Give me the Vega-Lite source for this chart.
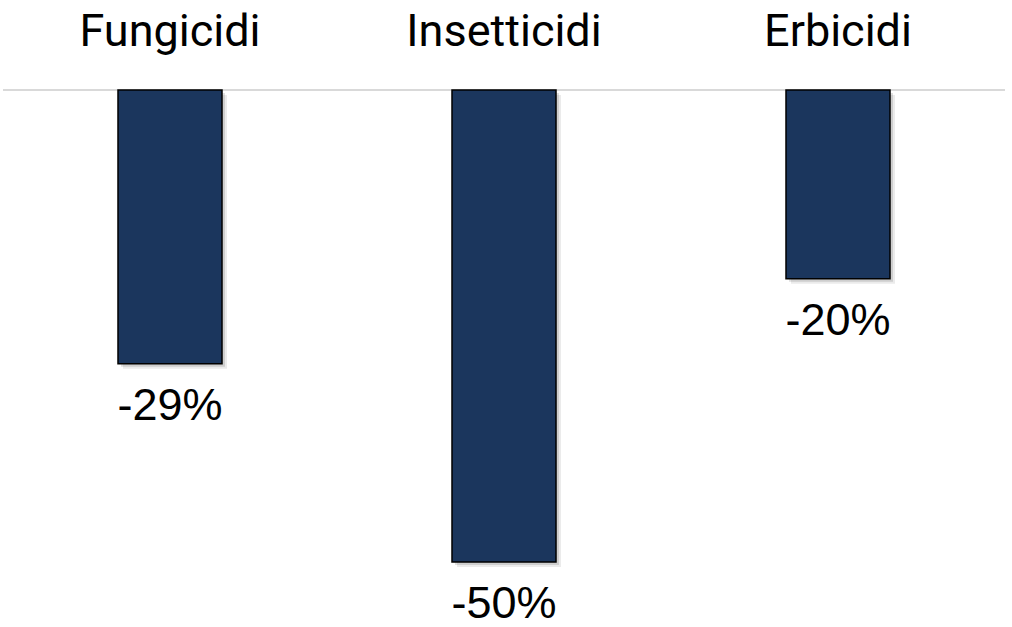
{
  "$schema": "https://vega.github.io/schema/vega-lite/v6.json",
  "width": 1002,
  "height": 535,
  "autosize": {"type": "none"},
  "padding": {"left": 3, "top": 90, "right": 7, "bottom": 2},
  "background": "white",
  "config": {"view": {"stroke": null}, "font": "Liberation Sans"},
  "data": {
    "values": [
      {"categoria": "Fungicidi", "variazione": -0.29},
      {"categoria": "Insetticidi", "variazione": -0.50},
      {"categoria": "Erbicidi", "variazione": -0.20}
    ]
  },
  "transform": [
    {"calculate": "replace(format(datum.variazione, '.0%'), '\u2212', '-')", "as": "etichetta"}
  ],
  "encoding": {
    "x": {
      "field": "categoria",
      "type": "nominal",
      "sort": null,
      "scale": {"paddingInner": 0.6886, "paddingOuter": 0.3443},
      "axis": {
        "orient": "top",
        "title": null,
        "domain": false,
        "ticks": false,
        "labelAngle": 0,
        "labelFont": "Roboto",
        "labelFontWeight": 400,
        "labelFontSize": 45,
        "labelLimit": 0,
        "labelColor": "#000000",
        "labelBaseline": "alphabetic",
        "labelPadding": 45
      }
    }
  },
  "layer": [
    {
      "mark": {"type": "rule", "color": "#d9d9d9", "strokeWidth": 2},
      "encoding": {"x": null, "y": {"datum": 0, "type": "quantitative", "scale": {"domain": [-0.5667, 0], "nice": false}, "axis": null}}
    },
    {
      "mark": {"type": "bar", "color": "#000000", "opacity": 0.08, "xOffset": 5, "x2Offset": 5, "yOffset": 5, "y2Offset": 5},
      "encoding": {"y": {"field": "variazione", "type": "quantitative", "axis": null}}
    },
    {
      "mark": {"type": "bar", "color": "#000000", "opacity": 0.12, "xOffset": 3, "x2Offset": 3, "yOffset": 3, "y2Offset": 3},
      "encoding": {"y": {"field": "variazione", "type": "quantitative", "axis": null}}
    },
    {
      "mark": {"type": "bar", "color": "#1b365d", "stroke": "#000000", "strokeWidth": 1.5},
      "encoding": {"y": {"field": "variazione", "type": "quantitative", "axis": null}}
    },
    {
      "mark": {"type": "text", "fontSize": 45, "color": "#000000", "baseline": "alphabetic", "dy": 56},
      "encoding": {
        "y": {"field": "variazione", "type": "quantitative", "axis": null},
        "text": {"field": "etichetta", "type": "nominal"}
      }
    }
  ]
}
